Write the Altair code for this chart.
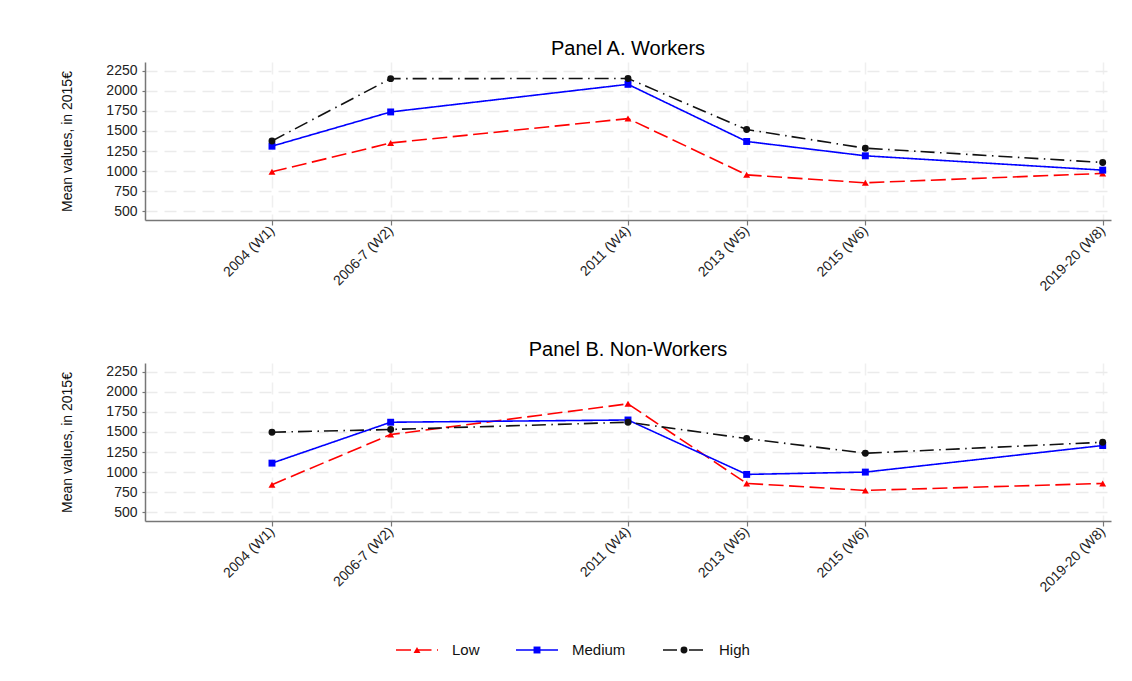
import altair as alt
import pandas as pd

# ---- data ----
waves = [1, 2, 4, 5, 6, 8]
wave_labels = ["2004 (W1)", "2006-7 (W2)", "2011 (W4)", "2013 (W5)", "2015 (W6)", "2019-20 (W8)"]
series = ["Low", "Medium", "High"]

workers_low = [990, 1350, 1655, 952, 853, 970]
workers_medium = [1310, 1738, 2083, 1369, 1190, 1011]
workers_high = [1376, 2154, 2156, 1518, 1285, 1107]

nonworkers_low = [842, 1468, 1852, 858, 770, 857]
nonworkers_medium = [1111, 1622, 1650, 970, 999, 1331]
nonworkers_high = [1497, 1531, 1622, 1418, 1235, 1372]

y_ticks = [500, 750, 1000, 1250, 1500, 1750, 2000, 2250]

FONT = "Liberation Sans"
colors = ["#ff0000", "#0000ff", "#111111"]
dashes = [[15, 5.5], [1, 0], [14, 5.5, 1.5, 5]]
shapes = ["triangle-up", "square", "circle"]


def make_df(low, medium, high):
    rows = []
    for name, vals in zip(series, [low, medium, high]):
        for w, v in zip(waves, vals):
            rows.append({"wave": w, "value": v, "series": name})
    return pd.DataFrame(rows)


# label lookup expression built from the tick label list
lab_arr = [""] * (max(waves) + 1)
for w, l in zip(waves, wave_labels):
    lab_arr[w] = l
label_expr = "[" + ",".join("'" + s + "'" for s in lab_arr) + "][datum.value]"

color_scale = alt.Scale(domain=series, range=colors)
dash_scale = alt.Scale(domain=series, range=dashes)
shape_scale = alt.Scale(domain=series, range=shapes)


def panel(df, title):
    base = alt.Chart(df).encode(
        x=alt.X(
            "wave:Q",
            scale=alt.Scale(domain=[-0.07, 8.07], nice=False, zero=False),
            axis=alt.Axis(
                values=waves,
                labelExpr=label_expr,
                labelAngle=-45,
                labelAlign="right",
                labelBaseline="middle",
                labelFontSize=14,
                labelPadding=3,
                tickSize=5,
                title=None,
                grid=True,
                gridDash=[12, 7],
                gridColor="#efefef",
                gridWidth=1.5,
            ),
        ),
        y=alt.Y(
            "value:Q",
            scale=alt.Scale(domain=[388, 2362], nice=False, zero=False),
            axis=alt.Axis(
                values=y_ticks,
                format="d",
                title="Mean values, in 2015€",
                titleFontSize=14,
                titleFontWeight="normal",
                titlePadding=31,
                labelFontSize=14,
                labelPadding=5,
                tickSize=3,
                grid=True,
                gridDash=[12, 7],
                gridColor="#ebebeb",
                gridWidth=1.5,
            ),
        ),
        color=alt.Color("series:N", scale=color_scale, legend=None),
    )
    lines = base.mark_line(strokeWidth=1.6).encode(
        strokeDash=alt.StrokeDash("series:N", scale=dash_scale, legend=None)
    )
    points = base.mark_point(filled=True, size=48, opacity=1).encode(
        shape=alt.Shape("series:N", scale=shape_scale, legend=None)
    )
    return alt.layer(lines, points).properties(
        width=966,
        height=158,
        title=alt.TitleParams(
            title, fontSize=20, fontWeight="normal", font=FONT, color="#000",
            anchor="middle", baseline="alphabetic", offset=-13,
        ),
    )


pa = panel(make_df(workers_low, workers_medium, workers_high), "Panel A. Workers")
pb = panel(make_df(nonworkers_low, nonworkers_medium, nonworkers_high), "Panel B. Non-Workers")

# ---- manual legend built from the series list ----
leg_df = pd.DataFrame({"series": series})
leg_calc = "indexof(" + "[" + ",".join("'" + s + "'" for s in series) + "], datum.series)"
leg_x = alt.X(
    "idx:Q",
    scale=alt.Scale(domain=[0, 1, 2], range=[272, 392, 539]),
    axis=None,
)
leg_base = (
    alt.Chart(leg_df)
    .transform_calculate(idx=leg_calc)
    .encode(
        x=leg_x,
        color=alt.Color("series:N", scale=color_scale, legend=None),
    )
)
leg_rule = leg_base.mark_rule(strokeWidth=1.6, xOffset=-21, x2Offset=21).encode(
    x2=alt.X2("idx:Q"),
    y=alt.value(10),
    strokeDash=alt.StrokeDash("series:N", scale=dash_scale, legend=None),
)
leg_pt = leg_base.mark_point(filled=True, size=48, opacity=1).encode(
    y=alt.value(10),
    shape=alt.Shape("series:N", scale=shape_scale, legend=None),
)
leg_txt = (
    alt.Chart(leg_df)
    .transform_calculate(idx=leg_calc)
    .mark_text(align="left", baseline="middle", dx=35, fontSize=15, font=FONT, color="#111")
    .encode(x=leg_x, y=alt.value(10), text="series:N")
)
legend = alt.layer(leg_rule, leg_pt, leg_txt).properties(width=966, height=20)

top = alt.vconcat(pa, pb, spacing=46)
chart = (
    alt.vconcat(top, legend, spacing=45)
    .properties(padding={"left": 52, "top": 31, "right": 5, "bottom": 5})
    .configure(font=FONT)
    .configure_view(stroke=None)
    .configure_axis(
        labelFont=FONT,
        titleFont=FONT,
        labelColor="#222",
        titleColor="#111",
        domainColor="#777",
        domainWidth=1.5,
        tickColor="#777",
        tickWidth=1.2,
    )
)

chart.save("out.html", embed_options={"renderer": "svg", "actions": False})
